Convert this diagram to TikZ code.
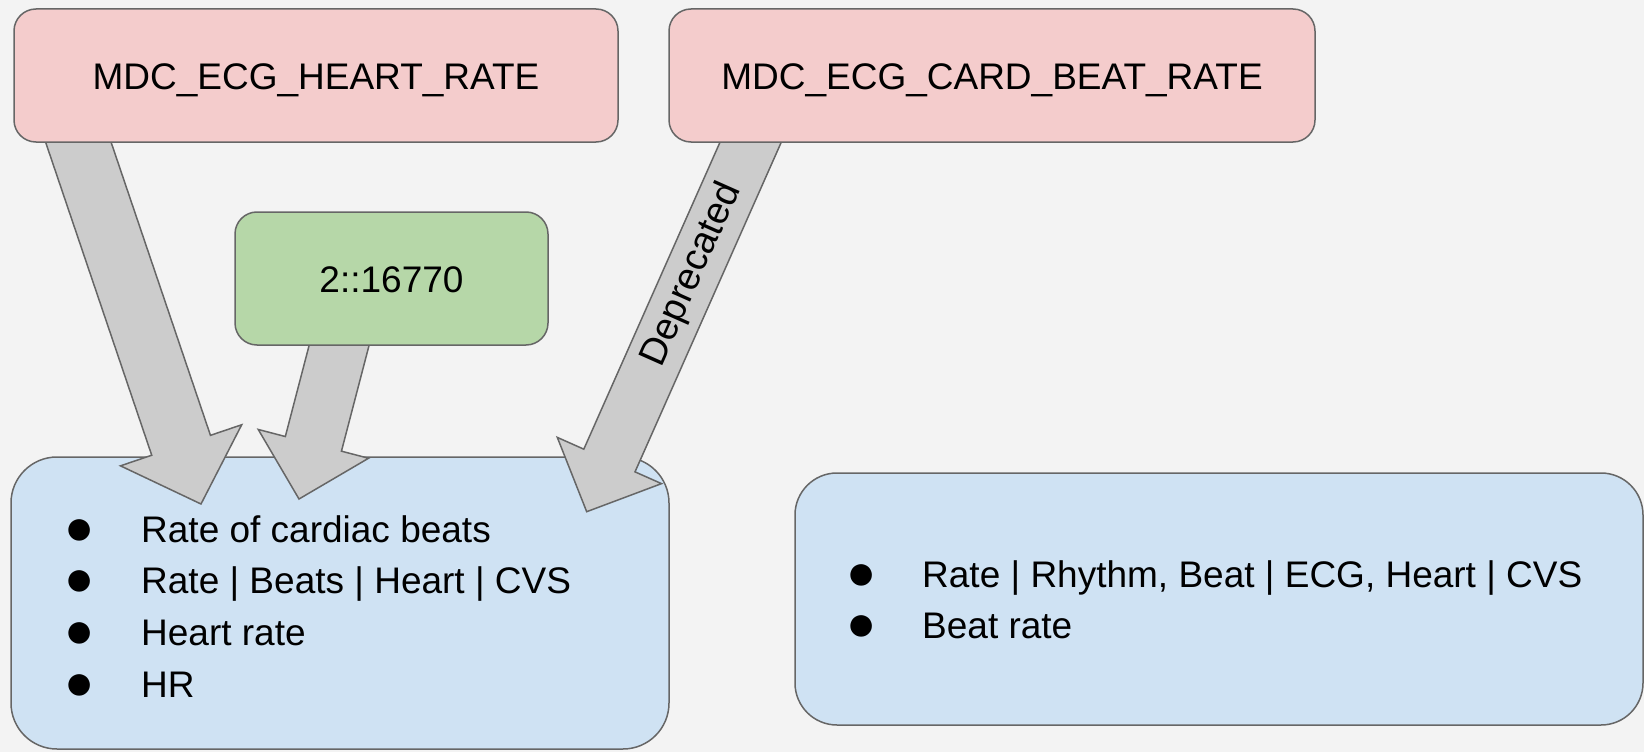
\documentclass[tikz,border=0pt]{standalone}
\usepackage{fontspec}
\setmainfont{Liberation Sans}
\usetikzlibrary{calc}
\definecolor{bgc}{HTML}{F3F3F3}
\definecolor{pinkc}{HTML}{F4CCCC}
\definecolor{greenc}{HTML}{B6D7A8}
\definecolor{bluec}{HTML}{CFE2F3}
\definecolor{arrc}{HTML}{CCCCCC}
\definecolor{edgec}{HTML}{666666}
\newcommand{\blockarr}[5]{%
  \coordinate (hb) at ($(#2)!#5!(#1)$);
  \path[blockarrow] ($(#1)!#3!90:(#2)$) -- ($(hb)!#3!90:(#2)$) -- ($(hb)!#4!90:(#2)$) -- (#2)
    -- ($(hb)!#4!-90:(#2)$) -- ($(hb)!#3!-90:(#2)$) -- ($(#1)!#3!-90:(#2)$) -- cycle;}
\newcommand{\bul}[1]{\makebox[#1][c]{\raisebox{-2pt}{\fontsize{50}{50}\selectfont ●}}}
\begin{document}
\begin{tikzpicture}[x=1pt,y=-1pt,
  rbox/.style={draw=edgec, line width=1.5pt, rounded corners=#1, inner sep=0pt},
  txt/.style={font=\fontsize{37}{44}\selectfont},
  blockarrow/.style={draw=edgec, fill=arrc, line width=1.5pt, line join=miter},
  item/.style={txt, anchor=base west, inner sep=0pt}]
\fill[bgc] (0,0) rectangle (1644,752);
\useasboundingbox (0,0) rectangle (1644,752);
% target boxes
\node[rbox=46pt, fill=bluec, minimum width=658pt, minimum height=292pt] (lb) at (340,603) {};
\node[rbox=42pt, fill=bluec, minimum width=848pt, minimum height=252pt] (rb) at (1219,599) {};
% list texts
\node[item] (l1) at (17,542) {\bul{124pt}Rate of cardiac beats};
\node[item] (l2) at (17,593) {\bul{124pt}Rate | Beats | Heart | CVS};
\node[item] (l3) at (17,645) {\bul{124pt}Heart rate};
\node[item] (l4) at (17,697) {\bul{124pt}HR};
\node[item] (r1) at (801,587) {\bul{121pt}Rate | Rhythm, Beat | ECG, Heart | CVS};
\node[item] (r2) at (801,638) {\bul{121pt}Beat rate};
% arrow ends
\coordinate (t1) at (69,114.6);
\coordinate (h1) at (201,504);
\coordinate (t2) at (346.5,317);
\coordinate (h2) at (299,499);
\coordinate (t3) at (762,116.6);
\coordinate (h3) at (586.7,511.7);
\blockarr{t1}{h1}{31pt}{64pt}{62pt}
\blockarr{t2}{h2}{29pt}{57pt}{57pt}
\blockarr{t3}{h3}{28pt}{57pt}{56pt}
\path (t3) -- node[sloped, pos=0.40, font=\fontsize{38}{44}\selectfont, inner sep=0pt] (dep) {Deprecated} (h3);
% source boxes
\node[rbox=22pt, fill=pinkc, minimum width=604pt, minimum height=133pt, txt, text height=27pt, text depth=0pt] (hr) at (316,75.5) {MDC\_ECG\_HEART\_RATE};
\node[rbox=22pt, fill=pinkc, minimum width=646pt, minimum height=133pt, txt, text height=27pt, text depth=0pt] (cbr) at (992,75.5) {MDC\_ECG\_CARD\_BEAT\_RATE};
\node[rbox=22pt, fill=greenc, minimum width=313pt, minimum height=133pt, txt, text height=27pt, text depth=0pt] (code) at (391.5,278.5) {2::16770};
\end{tikzpicture}
\end{document}
